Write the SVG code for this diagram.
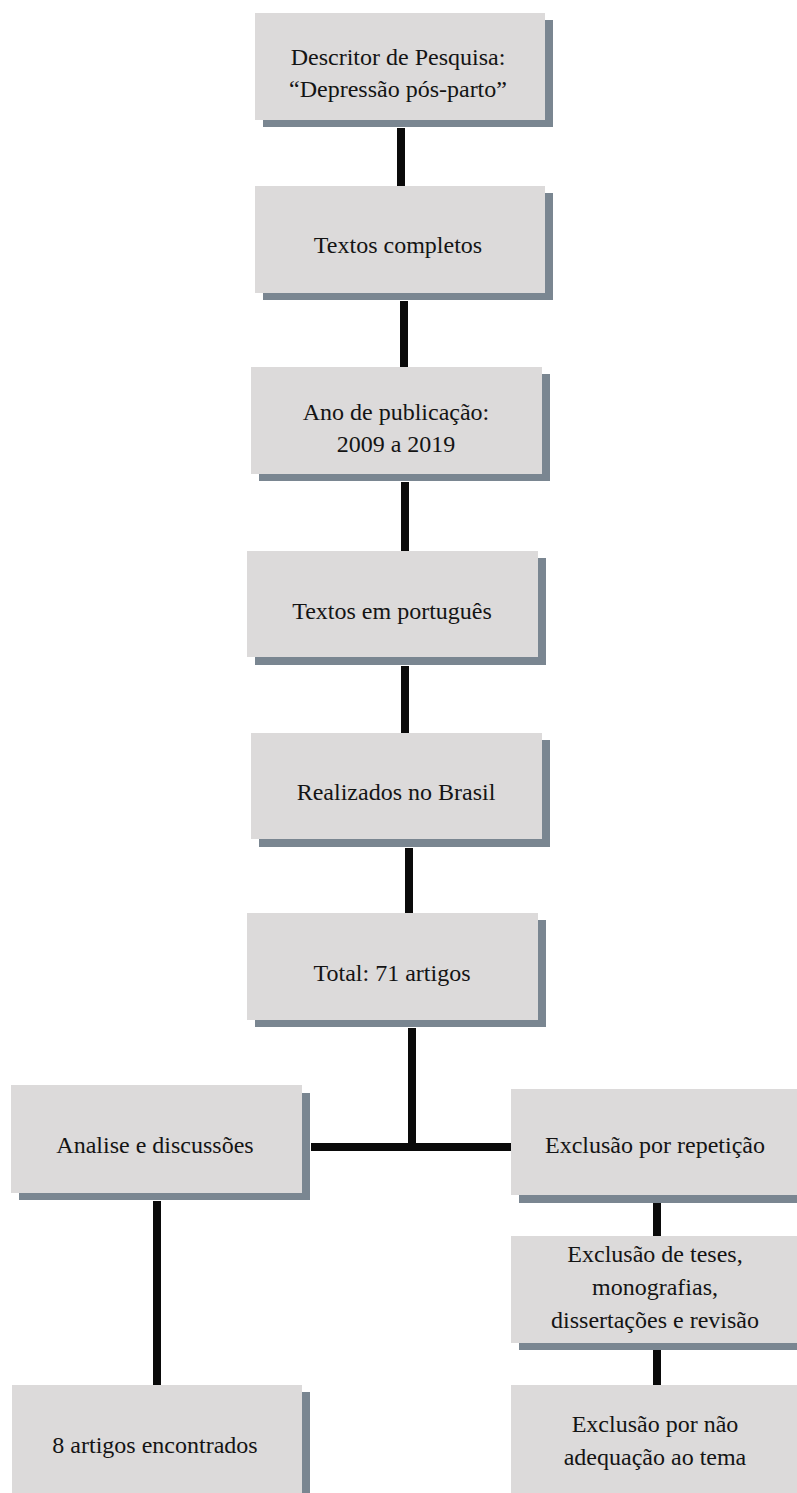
<svg xmlns="http://www.w3.org/2000/svg" width="797" height="1493" viewBox="0 0 797 1493">
<style>
.sh{fill:#7a8691}
.bx{fill:#dcdada}
.t{font-family:"Liberation Serif","Times New Roman",serif;font-size:24px;fill:#141414;text-anchor:middle}
.c{stroke:#0a0a0a;stroke-width:8;fill:none}
</style>
<rect width="797" height="1493" fill="#ffffff"/>
<g id="connectors">
<line class="c" x1="401" y1="128" x2="401" y2="186"/>
<line class="c" x1="404" y1="301" x2="404" y2="367"/>
<line class="c" x1="405" y1="482" x2="405" y2="551"/>
<line class="c" x1="405" y1="666" x2="405" y2="733"/>
<line class="c" x1="409" y1="848" x2="409" y2="913"/>
<line class="c" x1="412" y1="1028" x2="412" y2="1147"/>
<line class="c" x1="311" y1="1147" x2="511" y2="1147"/>
<line class="c" x1="157" y1="1201" x2="157" y2="1385"/>
<line class="c" x1="657" y1="1203" x2="657" y2="1236"/>
<line class="c" x1="657" y1="1350" x2="657" y2="1385"/>
</g>
<g id="n1">
<rect class="sh" x="263" y="20" width="290" height="107"/>
<rect class="bx" x="255" y="13" width="290" height="107"/>
<text class="t" x="398" y="65">Descritor de Pesquisa:</text>
<text class="t" x="398" y="97">“Depressão pós-parto”</text>
</g>
<g id="n2">
<rect class="sh" x="263" y="193" width="290" height="107"/>
<rect class="bx" x="255" y="186" width="290" height="107"/>
<text class="t" x="398" y="253">Textos completos</text>
</g>
<g id="n3">
<rect class="sh" x="259" y="374" width="291" height="107"/>
<rect class="bx" x="251" y="367" width="291" height="107"/>
<text class="t" x="396" y="420">Ano de publicação:</text>
<text class="t" x="396" y="452">2009 a 2019</text>
</g>
<g id="n4">
<rect class="sh" x="255" y="558" width="291" height="107"/>
<rect class="bx" x="247" y="551" width="291" height="106"/>
<text class="t" x="392" y="619">Textos em português</text>
</g>
<g id="n5">
<rect class="sh" x="259" y="740" width="291" height="107"/>
<rect class="bx" x="251" y="733" width="291" height="106"/>
<text class="t" x="396" y="800">Realizados no Brasil</text>
</g>
<g id="n6">
<rect class="sh" x="255" y="920" width="291" height="107"/>
<rect class="bx" x="247" y="913" width="291" height="107"/>
<text class="t" x="392" y="981">Total: 71 artigos</text>
</g>
<g id="n7">
<rect class="sh" x="19" y="1093" width="291" height="107"/>
<rect class="bx" x="11" y="1085" width="291" height="108"/>
<text class="t" x="155" y="1153">Analise e discussões</text>
</g>
<g id="n8">
<rect class="sh" x="519" y="1096" width="291" height="107"/>
<rect class="bx" x="511" y="1089" width="291" height="106"/>
<text class="t" x="655" y="1153">Exclusão por repetição</text>
</g>
<g id="n9">
<rect class="sh" x="519" y="1243" width="291" height="107"/>
<rect class="bx" x="511" y="1236" width="291" height="107"/>
<text class="t" x="655" y="1262">Exclusão de teses,</text>
<text class="t" x="655" y="1295">monografias,</text>
<text class="t" x="655" y="1328">dissertações e revisão</text>
</g>
<g id="n10">
<rect class="sh" x="519" y="1392" width="291" height="108"/>
<rect class="bx" x="511" y="1385" width="291" height="108"/>
<text class="t" x="655" y="1432">Exclusão por não</text>
<text class="t" x="655" y="1465">adequação ao tema</text>
</g>
<g id="n11">
<rect class="sh" x="20" y="1392" width="290" height="108"/>
<rect class="bx" x="12" y="1385" width="290" height="108"/>
<text class="t" x="155" y="1453">8 artigos encontrados</text>
</g>
</svg>
